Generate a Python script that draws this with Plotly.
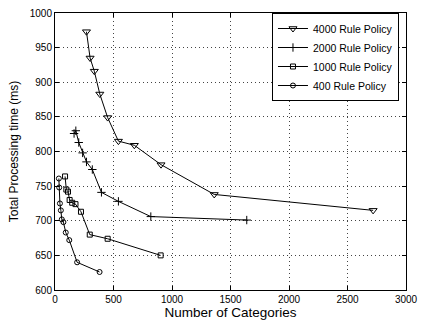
import plotly.graph_objects as go

x4000 = [269, 300, 336, 383, 450, 542, 678, 906, 1361, 2719]
y4000 = [973, 935, 916, 883, 849, 815, 809, 781, 738, 715]

x2000 = [163, 178, 203, 236, 269, 319, 397, 542, 819, 1639]
y2000 = [826, 830, 813, 798, 785, 774, 741, 728, 706, 701]

x1000 = [86, 97, 111, 125, 147, 175, 222, 297, 450, 903]
y1000 = [764, 745, 742, 730, 726, 724, 713, 680, 674, 650]

x400 = [33, 36, 42, 50, 58, 72, 92, 122, 189, 381]
y400 = [761, 748, 725, 715, 702, 698, 683, 672, 640, 626]

names = ["4000 Rule Policy", "2000 Rule Policy", "1000 Rule Policy", "400 Rule Policy"]
series = [(x4000, y4000), (x2000, y2000), (x1000, y1000), (x400, y400)]
symbols = ["triangle-down-open", "cross-thin-open", "square-open", "circle-open"]
sizes = [7, 6, 5, 5]

fig = go.Figure()
for (xs, ys), nm, sym, sz in zip(series, names, symbols, sizes):
    fig.add_trace(go.Scatter(
        x=xs, y=ys, name=nm, mode="lines+markers",
        line=dict(color="black", width=1),
        marker=dict(symbol=sym, size=sz, color="black", line=dict(color="black", width=1)),
    ))

axis_common = dict(
    showline=True, linecolor="black", linewidth=1, mirror="ticks",
    ticks="inside", ticklen=4, tickcolor="black",
    showgrid=True, gridcolor="#444", gridwidth=1, griddash="1px,3px",
    zeroline=False, tickfont=dict(family="Liberation Sans, Arial", size=10, color="black"),
    ticklabeloverflow="allow",
)

fig.update_layout(
    width=425, height=325,
    margin=dict(l=55, r=12, t=7, b=35),
    paper_bgcolor="white", plot_bgcolor="white",
    font=dict(family="Liberation Sans, Arial", color="black"),
    xaxis=dict(range=[0, 3000], dtick=500, title=dict(text="Number of Categories", font=dict(size=13.5), standoff=1), **axis_common),
    yaxis=dict(range=[600, 1000], dtick=50, title=dict(text="Total Processing time (ms)", font=dict(size=12), standoff=8), **axis_common),
    legend=dict(x=0.98, y=1.0, xanchor="right", yanchor="top",
                bordercolor="black", borderwidth=1, bgcolor="white",
                font=dict(size=10.5), tracegroupgap=0),
    showlegend=True,
)

fig.write_html("out.html")
